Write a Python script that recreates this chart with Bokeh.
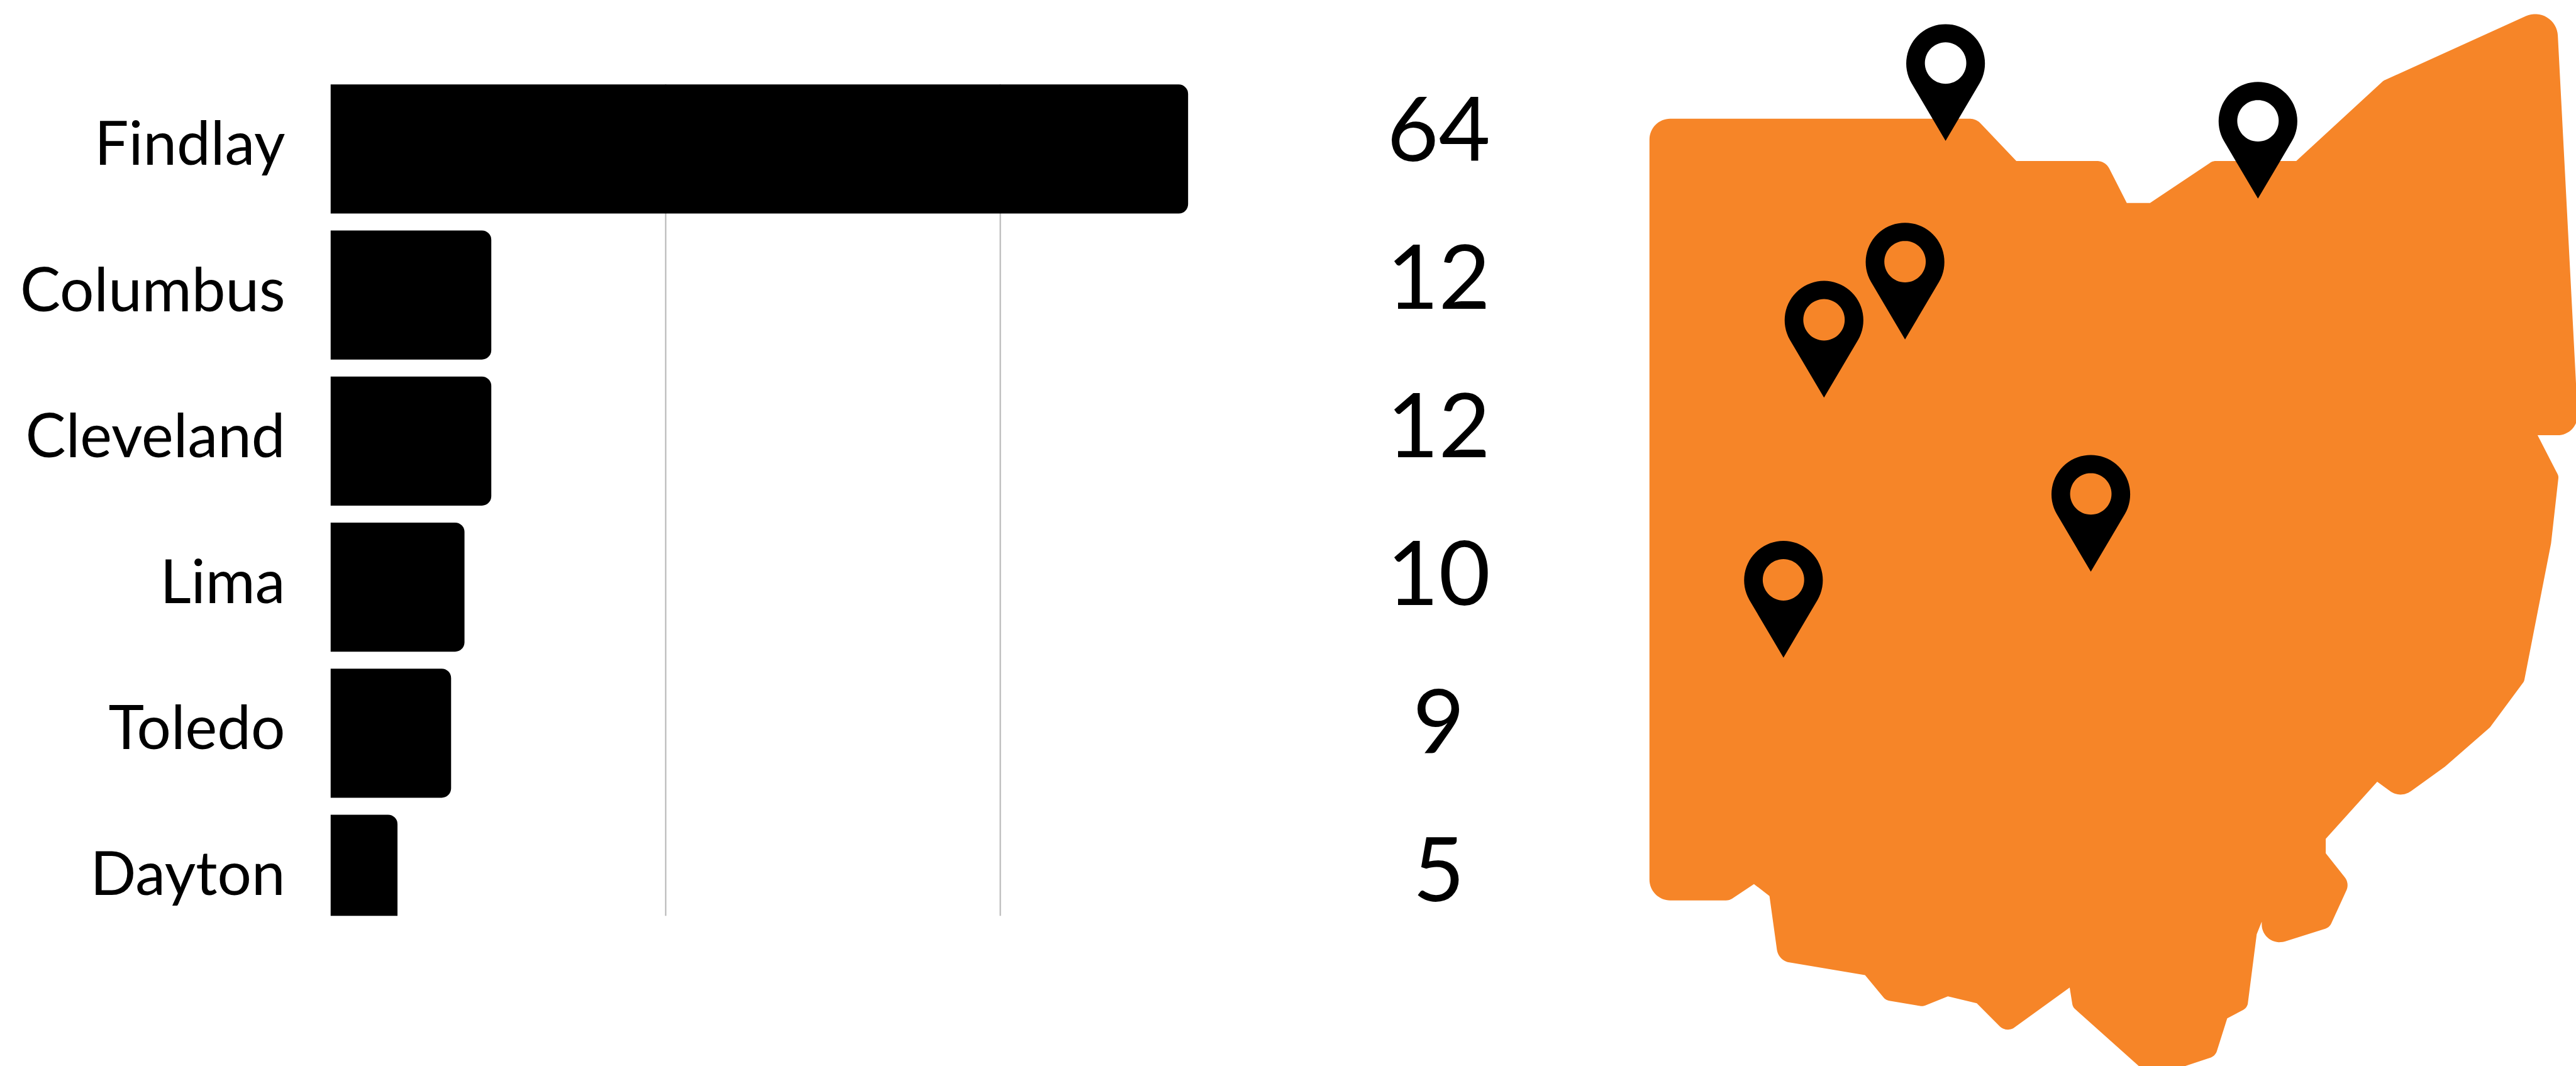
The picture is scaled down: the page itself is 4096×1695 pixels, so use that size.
import math
from bokeh.embed import file_html
from bokeh.layouts import row
from bokeh.models import ColumnDataSource, FixedTicker, Range1d
from bokeh.plotting import figure
from bokeh.resources import INLINE
from bokeh.core.properties import value

# ---------- data ----------
cities = ["Findlay", "Columbus", "Cleveland", "Lima", "Toledo", "Dayton"]
counts = [64, 12, 12, 10, 9, 5]
grid_values = [0, 25, 50]

# Outline of the state (in reference pixels), and corner rounding
map_x = [2627.5, 3148, 3212, 3354, 3388, 3425, 3525, 3658, 3797, 4072, 4108, 4042.5, 4076,
         4064, 4021, 3967, 3895, 3824, 3787, 3705, 3705, 3743, 3711, 3603, 3603, 3595,
         3580, 3548, 3529, 3460, 3415, 3302, 3297, 3196.5, 3149, 3103, 3063, 3004, 2971,
         2833, 2818.7, 2794, 2755, 2627.5]
map_y = [188.7, 188.7, 256, 256, 323, 323, 256, 256, 128, 3.4, 693, 693, 758,
         865, 1085, 1158, 1221, 1272, 1245, 1336, 1359, 1407, 1477, 1511, 1468, 1488,
         1605, 1622, 1682, 1705, 1705, 1604, 1573, 1645.5, 1598, 1587, 1603, 1593, 1553,
         1530, 1427, 1408, 1434, 1434]
map_r = [33, 24, 0, 22, 0, 0, 16, 0, 16, 36, 32, 0, 12,
         0, 12, 10, 0, 28, 0, 0, 0, 20, 16, 40, 0, 0,
         14, 0, 16, 0, 0, 14, 0, 18, 0, 0, 15, 15, 0,
         24, 0, 0, 16, 33]

# Map pins: position of each tip (reference pixels)
pin_x = [3099.3, 3597, 3034.7, 2905.6, 3330.7, 2841]
pin_y = [224, 316, 540.4, 633, 910.4, 1047.3]

# ---------- styling / geometry ----------
S = 0.998
FONT = "Lato"
ORANGE = "#F68528"
W, H = 4096, 1695
W_LEFT = 2495
FRAME_L, FRAME_T, FRAME_B = 525, 133, 1456
UNIT = 21.35            # reference px per count
BAND = 232.7            # reference px per bar step
BAND0 = 236.85          # reference y of first bar centre
LABEL_X = 82.7
LABEL_BASE0, LABEL_STEP = 204.7, 236.0
NAME_NUDGE = 0.052      # names sit a little above their bar's centre


def to_band(y_ref):
    return (y_ref - BAND0) / BAND


def to_ref(win):
    return win / S


# ---------- bars ----------
p1 = figure(width=W_LEFT, height=H, output_backend="svg", toolbar_location=None,
            x_range=Range1d(0, (W_LEFT - FRAME_L) / (UNIT * S)),
            y_range=Range1d(to_band(to_ref(FRAME_B)), to_band(to_ref(FRAME_T))),
            x_axis_location=None, y_axis_location="left",
            min_border_left=FRAME_L, min_border_right=0, min_border_top=FRAME_T,
            min_border_bottom=H - FRAME_B, outline_line_color=None,
            background_fill_color="white", border_fill_color="white", frame_align=False)
p1.ygrid.visible = False
p1.xgrid.ticker = FixedTicker(ticks=grid_values)
p1.xgrid.grid_line_color = "#b4b4b4"
p1.xgrid.grid_line_width = 2

band = list(range(len(cities)))
name_ticks = [round(i - NAME_NUDGE, 3) for i in band]
ax = p1.yaxis[0]
ax.ticker = FixedTicker(ticks=name_ticks)
ax.major_label_overrides = {t: c for t, c in zip(name_ticks, cities)}
ax.axis_line_color = None
ax.major_tick_line_color = None
ax.minor_tick_line_color = None
ax.major_label_text_font = FONT
ax.major_label_text_font_size = "96px"
ax.major_label_text_color = "black"
ax.major_label_standoff = 66

BAR_H = 205.7 / BAND
# The last bar runs past the bottom of the plot, so only its top corner is rounded.
p1.hbar(y=band[:-1], left=0, right=counts[:-1], height=BAR_H, fill_color="black", line_color=None,
        border_radius=(0, 15, 15, 0))
p1.hbar(y=band[-1:], left=0, right=counts[-1:], height=BAR_H, fill_color="black", line_color=None,
        border_radius=(0, 15, 0, 0))

lab = ColumnDataSource(dict(
    x=[LABEL_X] * len(counts),
    y=[to_band(LABEL_BASE0 + LABEL_STEP * i) for i in band],
    t=[str(c) for c in counts]))
p1.text(x="x", y="y", text="t", source=lab, text_align="center", text_baseline="alphabetic",
        text_font=value(FONT), text_font_size="142px", text_color="black")

# ---------- map ----------
def rounded(xs, ys, rs):
    n = len(xs)
    ox, oy = [], []
    for i in range(n):
        vx, vy, r = xs[i], ys[i], rs[i]
        if r <= 0:
            ox.append(vx); oy.append(vy)
            continue
        ax_, ay_ = xs[i - 1] - vx, ys[i - 1] - vy
        bx_, by_ = xs[(i + 1) % n] - vx, ys[(i + 1) % n] - vy
        la, lb = math.hypot(ax_, ay_), math.hypot(bx_, by_)
        ux, uy, wx, wy = ax_ / la, ay_ / la, bx_ / lb, by_ / lb
        half = math.acos(max(-1, min(1, ux * wx + uy * wy))) / 2
        d = min(r / math.tan(half), 0.9 * la, 0.9 * lb)
        r2 = d * math.tan(half)
        mx, my = ux + wx, uy + wy
        ml = math.hypot(mx, my)
        cx, cy = vx + mx / ml * r2 / math.sin(half), vy + my / ml * r2 / math.sin(half)
        a1 = math.atan2(vy + uy * d - cy, vx + ux * d - cx)
        a2 = math.atan2(vy + wy * d - cy, vx + wx * d - cx)
        da = (a2 - a1 + math.pi) % (2 * math.pi) - math.pi
        for k in range(17):
            a = a1 + da * k / 16
            ox.append(cx + r2 * math.cos(a)); oy.append(cy + r2 * math.sin(a))
    return ox, oy


def pin_outline(tx, ty):
    """Teardrop: round head with straight sides running to the tip; hole in the head."""
    R, CY = 62.7, -123.3
    right = [(R * math.cos(math.radians(a)), CY - R * math.sin(math.radians(a)))
             for a in range(90, -31, -5)]
    pts = right + [(0, 0)] + [(-x, y) for x, y in reversed(right)]
    outer_x = [tx + x for x, _ in pts]
    outer_y = [ty + y for _, y in pts]
    hole_x = [tx + 33 * math.cos(math.radians(a)) for a in range(0, 360, 6)]
    hole_y = [ty - 124 + 33 * math.sin(math.radians(a)) for a in range(0, 360, 6)]
    return outer_x, outer_y, hole_x, hole_y


p2 = figure(width=W - W_LEFT, height=H, output_backend="svg", toolbar_location=None,
            x_range=Range1d(to_ref(W_LEFT), to_ref(W)),
            y_range=Range1d(to_ref(H), to_ref(0)),
            x_axis_location=None, y_axis_location=None,
            min_border=0, min_border_left=0, min_border_right=0, min_border_top=0, min_border_bottom=0,
            outline_line_color=None, background_fill_color="white", border_fill_color="white",
            frame_align=False)
p2.grid.visible = False

mx, my = rounded(map_x, map_y, map_r)
p2.patch(mx, my, fill_color=ORANGE, line_color=None)

xs, ys = [], []
for tx, ty in zip(pin_x, pin_y):
    ox, oy, hx, hy = pin_outline(tx, ty)
    xs.append([[ox, hx]])
    ys.append([[oy, hy]])
p2.multi_polygons(xs=xs, ys=ys, fill_color="black", line_color=None)

layout = row(p1, p2, spacing=0)
open("out.html", "w").write(file_html(layout, INLINE))
